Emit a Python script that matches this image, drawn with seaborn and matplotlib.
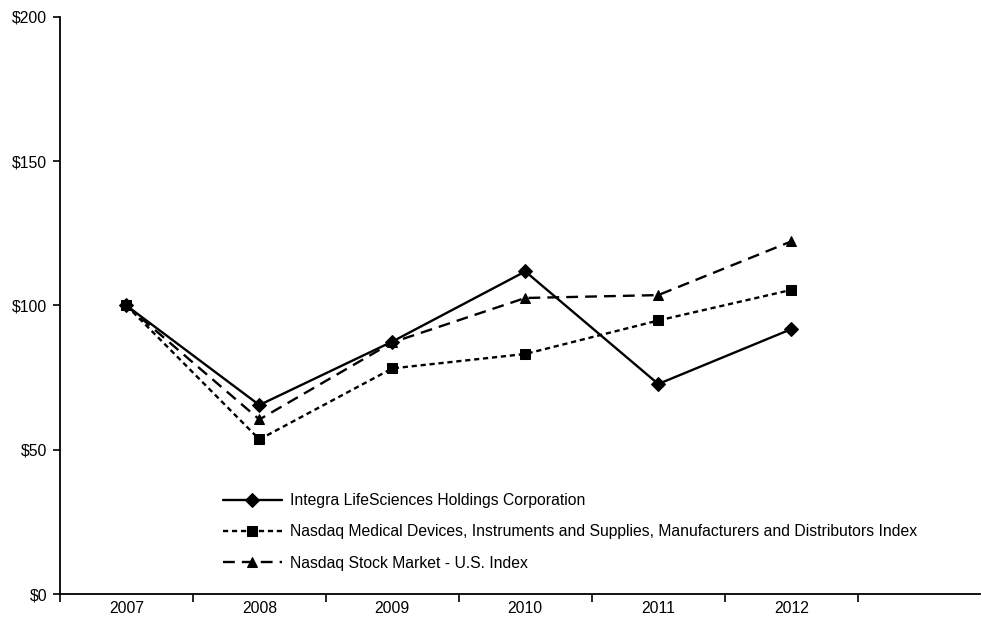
import pandas as pd
import numpy as np
from matplotlib import pyplot as plt
from matplotlib.ticker import FixedLocator, FuncFormatter
import seaborn as sns

# values
years = ["2007", "2008", "2009", "2010", "2011", "2012"]
integra = [100, 65.5, 87.5, 111.8, 72.8, 91.8]
nasdaq_med = [100, 53.6, 78.2, 83.2, 94.8, 105.4]
nasdaq_us = [100, 60.5, 87.2, 102.6, 103.6, 122.2]
series_names = [
    "Integra LifeSciences Holdings Corporation",
    "Nasdaq Medical Devices, Instruments and Supplies, Manufacturers and Distributors Index",
    "Nasdaq Stock Market - U.S. Index",
]

df = pd.DataFrame({
    "pos": list(range(len(years))) * 3,
    "value": integra + nasdaq_med + nasdaq_us,
    "series": np.repeat(series_names, len(years)),
})

sns.set_style("white")
plt.rcParams["font.family"] = ["Liberation Sans", "DejaVu Sans"]
plt.rcParams["text.color"] = "black"
plt.rcParams["xtick.color"] = "black"
plt.rcParams["ytick.color"] = "black"

fig = plt.figure(figsize=(9.82, 6.26), dpi=100)
ax = fig.add_axes([0.061, 0.051, 0.937, 0.922])

sns.lineplot(
    data=df, x="pos", y="value", hue="series", style="series",
    palette=["black"] * 3,
    markers={series_names[0]: "D", series_names[1]: "s", series_names[2]: "^"},
    dashes={series_names[0]: "", series_names[1]: (2.2, 1.6), series_names[2]: (5, 3)},
    markersize=7, markeredgecolor="black", linewidth=1.7, ax=ax,
)

ax.set_xlim(-0.5, 6.42)
ax.set_ylim(0, 200)
ax.set_xlabel("")
ax.set_ylabel("")

ax.set_xticks(range(len(years)))
ax.set_xticklabels(years, fontsize=11.3)
ax.xaxis.set_minor_locator(FixedLocator(np.arange(-0.5, 7, 1)))
ax.tick_params(axis="x", which="major", length=0, pad=5)
ax.tick_params(axis="x", which="minor", length=6, width=1.2, direction="out", bottom=True)

ax.set_yticks([0, 50, 100, 150, 200])
ax.yaxis.set_major_formatter(FuncFormatter(lambda v, p: f"${int(v)}"))
ax.tick_params(axis="y", length=5, width=1.2, direction="out", left=True, labelsize=11.3, pad=4)

for s in ["top", "right"]:
    ax.spines[s].set_visible(False)
for s in ["left", "bottom"]:
    ax.spines[s].set_color("black")
    ax.spines[s].set_linewidth(1.3)

handles, labels = ax.get_legend_handles_labels()
ax.legend(handles, labels, loc="upper left", bbox_to_anchor=(0.17, 0.186),
          frameon=False, fontsize=11.3, handlelength=3.8, labelspacing=1.05,
          handletextpad=0.5, borderaxespad=0)

plt.savefig("out.png", dpi=100)
